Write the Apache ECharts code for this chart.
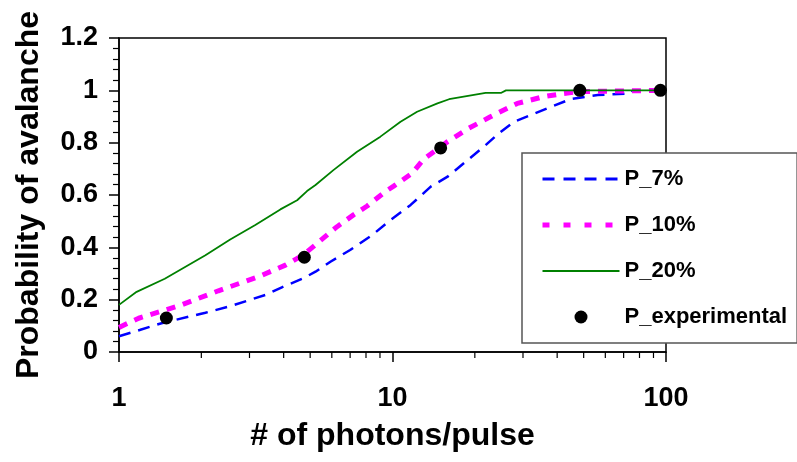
<!DOCTYPE html>
<html>
<head>
<meta charset="utf-8">
<script src="https://cdn.jsdelivr.net/npm/echarts@6/dist/echarts.min.js"></script>
<style>
  html, body { margin: 0; padding: 0; background: #fff; }
  #main { width: 797px; height: 462px; }
</style>
</head>
<body>
<div id="main"></div>
<script>
// photons per pulse (x) and probability (y)
const p7X = [1, 1.19, 1.43, 2.07, 2.51, 3.43, 3.94, 4.73, 5.23, 5.93, 7.0, 8.43, 9.83, 11.65, 13.8, 15.9, 18.3, 21.6, 24.5, 27.8, 36.8, 44.9, 56.3, 74.4, 76];
const p7Y = [0.06, 0.084, 0.11, 0.15, 0.173, 0.218, 0.247, 0.282, 0.307, 0.345, 0.39, 0.447, 0.504, 0.562, 0.632, 0.67, 0.723, 0.785, 0.836, 0.88, 0.931, 0.967, 0.982, 0.988, 1.0];

const p10X = [1, 1.18, 1.65, 2.31, 3.24, 4.06, 4.7, 5.23, 6.27, 7.2, 8.08, 9.41, 10.1, 11.8, 13.0, 15.9, 19.0, 22.8, 28.6, 35.8, 42.3, 48, 100];
const p10Y = [0.094, 0.129, 0.176, 0.234, 0.288, 0.332, 0.37, 0.41, 0.479, 0.524, 0.558, 0.613, 0.634, 0.683, 0.737, 0.804, 0.855, 0.899, 0.95, 0.976, 0.988, 0.995, 1.0];

const p20X = [1, 1.16, 1.47, 2.07, 2.55, 3.15, 3.89, 4.48, 4.87, 5.23, 6.08, 7.42, 9.03, 10.7, 12.3, 14.6, 16.1, 21.9, 24.9, 26, 30, 50, 100];
const p20Y = [0.18, 0.23, 0.28, 0.37, 0.43, 0.485, 0.545, 0.58, 0.615, 0.638, 0.695, 0.765, 0.823, 0.88, 0.918, 0.95, 0.966, 0.99, 0.99, 1.0, 1.0, 1.0, 1.0];

const expX = [1.49, 4.76, 15, 48.4, 95.4];
const expY = [0.13, 0.362, 0.78, 1.0, 1.0];

const minorTicksX = [2, 3, 4, 5, 6, 7, 8, 9, 20, 30, 40, 50, 60, 70, 80, 90];

const font = "'Liberation Sans', Arial, sans-serif";

function pairs(xs, ys) {
    return xs.map(function (x, i) { return [x, ys[i]]; });
}

const chart = echarts.init(document.getElementById('main'));

const option = {
    animation: false,
    textStyle: { fontFamily: font },
    grid: {
        left: 119,
        right: 131,
        top: 38,
        bottom: 110,
        show: true,
        borderColor: '#000',
        borderWidth: 1.5,
        backgroundColor: 'transparent'
    },
    legend: {
        orient: 'vertical',
        left: 522,
        top: 153,
        padding: [15, 10, 15, 18],
        itemWidth: 77,
        itemHeight: 13,
        itemGap: 24,
        backgroundColor: '#fff',
        borderColor: '#555',
        borderWidth: 1.5,
        textStyle: { fontFamily: font, fontWeight: 'bold', fontSize: 22, color: '#000' },
        data: [
            { name: 'P_7%', itemStyle: { opacity: 0 }, lineStyle: { width: 3, type: [12, 9] } },
            { name: 'P_10%', itemStyle: { opacity: 0 }, lineStyle: { width: 5, type: [7, 14] } },
            { name: 'P_20%', itemStyle: { opacity: 0 }, lineStyle: { width: 2 } },
            { name: 'P_experimental' }
        ]
    },
    xAxis: {
        type: 'log',
        logBase: 10,
        min: 1,
        max: 100,
        name: '# of photons/pulse',
        nameLocation: 'middle',
        nameGap: 68,
        nameTextStyle: { fontFamily: font, fontWeight: 'bold', fontSize: 32, color: '#000' },
        axisLine: { onZero: false, lineStyle: { color: '#000', width: 1.5 } },
        axisTick: { show: true, inside: false, length: 10, lineStyle: { color: '#000', width: 1.5 } },
        axisLabel: { fontFamily: font, fontWeight: 'bold', fontSize: 27, color: '#000', margin: 33 },
        splitLine: { show: false }
    },
    yAxis: {
        type: 'value',
        min: 0,
        max: 1.2,
        interval: 0.2,
        name: 'Probability of avalanche',
        nameLocation: 'middle',
        nameGap: 74,
        nameTextStyle: { fontFamily: font, fontWeight: 'bold', fontSize: 32, color: '#000' },
        axisLine: { show: true, onZero: false, lineStyle: { color: '#000', width: 1.5 } },
        axisTick: { show: true, inside: false, length: 10, lineStyle: { color: '#000', width: 1.5 } },
        minorTick: { show: true, splitNumber: 5, length: 6, lineStyle: { color: '#000', width: 1.2 } },
        axisLabel: { fontFamily: font, fontWeight: 'bold', fontSize: 27, color: '#000', margin: 21 },
        splitLine: { show: false }
    },
    series: [
        {
            name: 'minorTicks',
            type: 'custom',
            clip: false,
            silent: true,
            data: minorTicksX.map(function (v) { return [v, 0]; }),
            renderItem: function (params, api) {
                const p = api.coord([api.value(0), api.value(1)]);
                return {
                    type: 'line',
                    shape: { x1: p[0], y1: p[1], x2: p[0], y2: p[1] + 6 },
                    style: { stroke: '#000', lineWidth: 1.2 }
                };
            }
        },
        {
            name: 'P_7%',
            type: 'line',
            symbol: 'none',
            data: pairs(p7X, p7Y),
            lineStyle: { color: '#0000ff', width: 2.5, type: [12, 8] },
            itemStyle: { color: '#0000ff' },
            z: 3
        },
        {
            name: 'P_10%',
            type: 'line',
            symbol: 'none',
            data: pairs(p10X, p10Y),
            lineStyle: { color: '#ff00ff', width: 5, type: [9, 8] },
            itemStyle: { color: '#ff00ff' },
            z: 3
        },
        {
            name: 'P_20%',
            type: 'line',
            symbol: 'none',
            data: pairs(p20X, p20Y),
            lineStyle: { color: '#008000', width: 1.8 },
            itemStyle: { color: '#008000' },
            z: 3
        },
        {
            name: 'P_experimental',
            type: 'scatter',
            symbol: 'circle',
            symbolSize: 13,
            data: pairs(expX, expY),
            itemStyle: { color: '#000', opacity: 1 },
            z: 4
        }
    ]
};

chart.setOption(option);
</script>
</body>
</html>
